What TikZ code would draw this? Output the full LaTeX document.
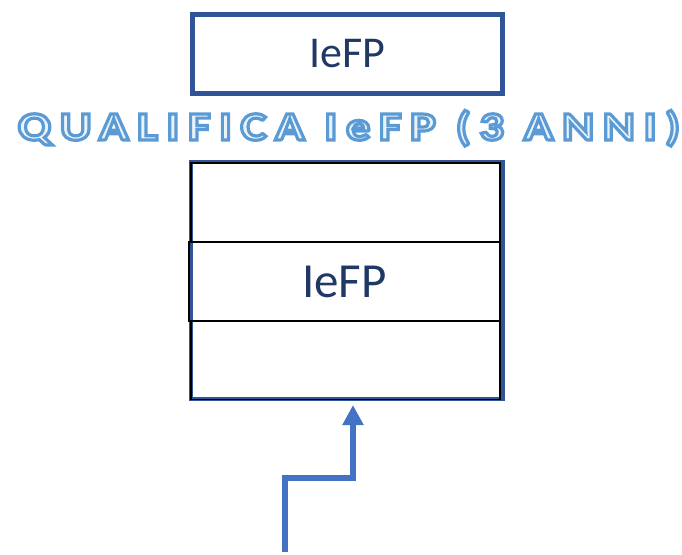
\documentclass[tikz,border=0pt]{standalone}
\usepackage{fontspec}
\setmainfont{Carlito}
\newfontfamily\headfont{Carlito}[LetterSpace=21.5,FakeStretch=1.22]
\usetikzlibrary{arrows.meta}
\definecolor{boxblue}{HTML}{2F5597}
\definecolor{txtblue}{HTML}{203864}
\definecolor{arrblue}{HTML}{4472C4}
\definecolor{headblue}{HTML}{5B9BD5}
\newcommand{\outlinedtext}[1]{\textcolor{headblue!12}{\special{pdf:literal direct 2 Tr 3.2 w 0.357 0.608 0.835 RG}#1\special{pdf:literal direct 0 Tr}}}
\begin{document}
\begin{tikzpicture}[x=1pt,y=-1pt,
  topbox/.style={draw=boxblue,line width=5pt,minimum width=310pt,minimum height=79pt,inner sep=0pt,outer sep=0pt,text=txtblue,font=\fontsize{44}{44}\selectfont},
  framebox/.style={draw=boxblue,line width=4pt,minimum width=312pt,minimum height=237pt,inner sep=0pt,outer sep=0pt},
  rowbox/.style={draw=black,line width=1.6pt,minimum height=79pt,inner sep=0pt,outer sep=0pt,text=txtblue,font=\fontsize{49}{49}\selectfont},
  headtext/.style={anchor=base,inner sep=0pt,font=\headfont\bfseries\fontsize{40}{40}\selectfont},
  arr/.style={draw=arrblue,line width=6pt,-{Triangle[width=20pt,length=20pt]}}]
\useasboundingbox (0,0) rectangle (682,554);
\node[topbox] (top) at (347.5,53.5) {IeFP};
\node[headtext] (head) at (349,140) {\outlinedtext{QUALIFICA IeFP (3 ANNI)}};
\node[framebox] (stack) at (347,280.5) {};
\node[rowbox,minimum width=309pt] (r1) at (345.5,202.5) {};
\node[rowbox,minimum width=311pt] (r2) at (344.5,281.5) {IeFP};
\node[rowbox,minimum width=309pt] (r3) at (345.5,360) {};
\coordinate (s) at (285,552);
\coordinate (k) at (353,478);
\coordinate (e) at (353,405);
\draw[arr] (s) |- (k) -- (e);
\end{tikzpicture}
\end{document}
